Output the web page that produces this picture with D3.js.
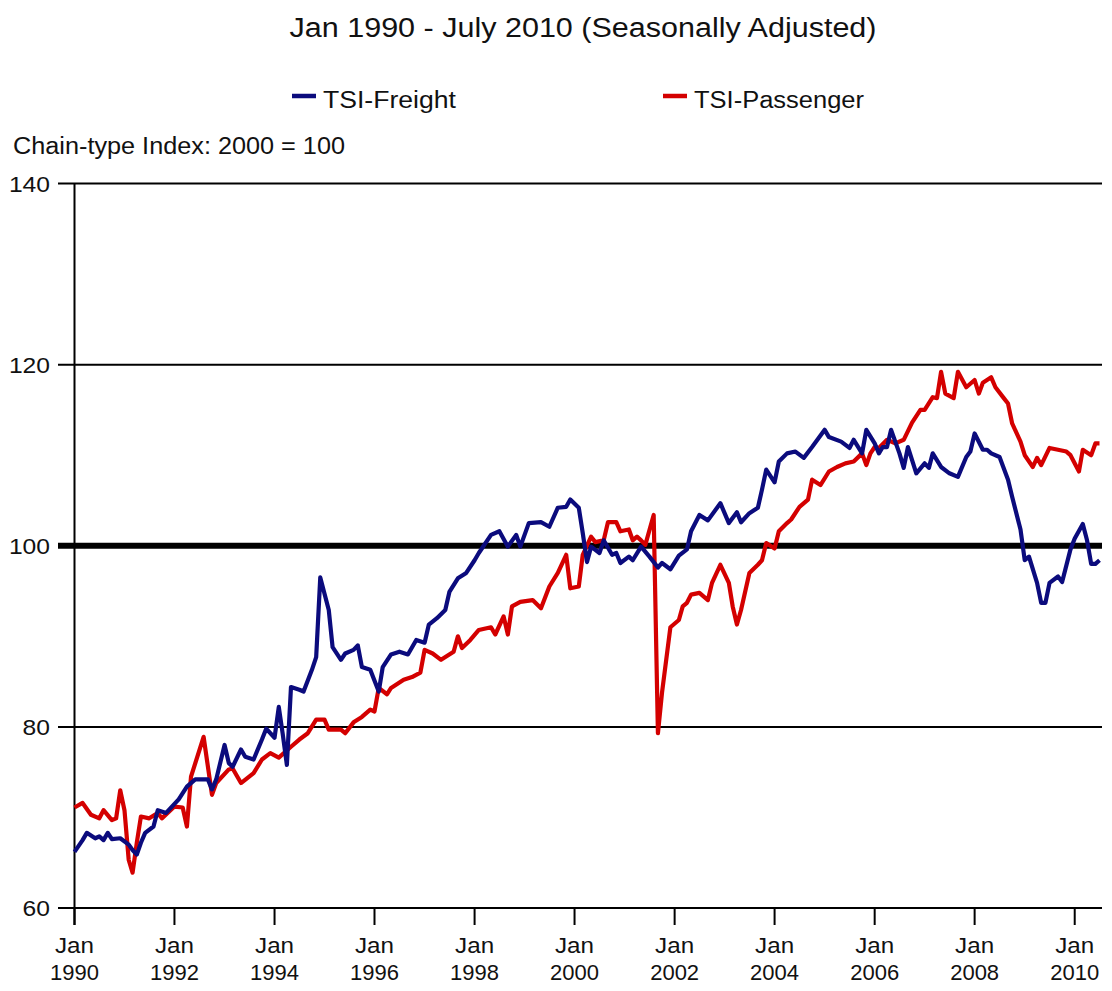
<!DOCTYPE html>
<html><head><meta charset="utf-8">
<script src="https://cdn.jsdelivr.net/npm/d3@7"></script>
<style>body{margin:0;background:#fff}svg{display:block}</style>
</head><body>
<svg id="c" width="1112" height="991"></svg>
<script>
// months counted from Jan 1990
const baseYear = 1990;
const freightMonths = [0,2,3,5,6,7,8,9,11,13,14,15,16,17,19,20,22,25,27,29,32,33,34,36,37,38,40,41,43,45,46,48,49,50,51,52,54,55,57,58,59,61,62,64,65,67,68,69,71,73,74,76,78,80,82,84,85,87,89,90,92,94,96,97,100,102,104,106,107,109,112,114,116,118,119,121,122,123,124,126,127,129,130,131,133,134,136,138,140,141,143,145,147,148,150,152,155,157,159,160,162,164,165,166,168,169,171,173,175,177,180,181,184,186,187,189,190,192,193,194,195,196,198,199,200,202,204,205,206,208,210,212,214,215,216,218,219,220,222,224,225,227,228,229,231,232,233,234,236,237,239,240,242,243,244,245,246];
const freightValues = [66.2,67.5,68.3,67.7,67.9,67.5,68.3,67.6,67.7,67.0,66.4,65.9,67.2,68.3,69.0,70.8,70.5,72.0,73.4,74.2,74.2,73.1,74.2,78.0,76.0,75.6,77.5,76.7,76.4,78.6,79.8,78.8,82.2,79.3,75.8,84.4,84.1,83.9,86.3,87.7,96.5,92.9,88.8,87.4,88.1,88.5,89.0,86.6,86.3,83.9,86.6,88.0,88.3,88.0,89.6,89.3,91.3,92.0,92.9,94.9,96.4,97.0,98.4,99.2,101.2,101.6,99.9,101.2,99.9,102.5,102.6,102.1,104.2,104.3,105.1,104.2,101.4,98.2,99.9,99.2,100.6,99.0,99.2,98.1,98.8,98.4,99.9,98.8,97.6,98.1,97.4,98.9,99.6,101.6,103.4,102.8,104.7,102.5,103.7,102.6,103.6,104.2,106.2,108.4,107.0,109.3,110.2,110.4,109.7,110.9,112.8,112.0,111.5,110.8,111.7,110.2,112.8,111.3,110.2,110.9,110.9,112.8,110.2,108.6,110.9,108.0,109.1,108.6,110.2,108.7,108.0,107.6,109.8,110.4,112.4,110.6,110.6,110.2,109.8,107.3,105.4,101.8,98.4,98.8,95.9,93.7,93.7,95.9,96.6,96.0,99.6,100.8,102.4,100.6,98.0,98.0,98.4];

const passengerMonths = [0,2,4,6,7,9,10,11,12,13,14,15,16,18,20,21,24,26,27,28,31,33,34,37,38,40,43,45,47,49,52,54,56,58,60,61,64,65,67,69,71,72,73,75,76,79,81,83,84,86,88,91,92,93,95,97,100,101,103,104,105,107,110,112,114,116,118,119,121,122,124,125,127,128,130,131,133,134,135,136,137,139,140,141,143,145,146,147,148,150,152,153,155,157,158,159,160,162,164,165,166,168,169,171,172,174,176,177,179,181,183,185,187,189,190,191,192,193,195,197,199,201,203,204,206,207,208,209,211,212,214,216,217,218,220,221,223,224,225,227,228,230,231,232,234,236,238,239,241,242,244,245,246];
const passengerValues = [71.1,71.6,70.3,69.9,70.8,69.7,69.9,73.0,70.8,65.3,63.9,67.2,70.1,69.9,70.5,69.9,71.2,71.1,69.0,74.5,78.9,72.5,73.8,75.3,75.4,73.8,74.9,76.4,77.1,76.6,77.8,78.6,79.3,80.8,80.8,79.7,79.7,79.3,80.5,81.1,81.9,81.7,84.3,83.6,84.3,85.2,85.5,86.0,88.5,88.1,87.4,88.3,90.0,88.7,89.6,90.7,91.0,90.2,92.2,90.2,93.3,93.8,94.0,93.1,95.5,97.0,99.0,95.3,95.5,99.0,101.0,100.4,100.6,102.6,102.6,101.6,101.8,100.6,101.0,100.6,100.1,103.4,79.3,83.8,91.0,91.8,93.3,93.7,94.6,94.8,94.0,95.9,97.9,95.9,93.3,91.3,92.9,97.0,97.9,98.4,100.3,99.7,101.6,102.5,102.9,104.3,105.1,107.3,106.7,108.2,108.7,109.1,109.3,110.2,108.9,110.2,110.9,110.8,111.7,111.3,111.7,113.6,115.0,115.0,116.4,116.3,119.2,116.8,116.3,119.2,117.5,118.3,116.8,118.0,118.6,117.5,116.3,115.7,113.5,111.5,110.0,108.7,109.7,108.9,110.8,110.6,110.4,110.0,108.2,110.6,110.0,111.3,111.3];

const yTicks = [60,80,100,120,140];
const xTickYears = [1990,1992,1994,1996,1998,2000,2002,2004,2006,2008,2010];
const seriesNames = ["TSI-Freight","TSI-Passenger"];
const seriesColors = ["#0b0b7d","#d40000"];

const svg = d3.select("#c");
const font = "'Liberation Sans', Arial, sans-serif";
const toDate = m => new Date(baseYear + Math.floor(m/12), m%12, 1);

// stretch text horizontally by a factor (reference glyphs are wide)
function stretch(sel, f){
  sel.each(function(){
    const w = this.getComputedTextLength();
    d3.select(this).attr("textLength", w*f).attr("lengthAdjust","spacingAndGlyphs");
  });
}

const x = d3.scaleTime().domain([new Date(1990,0,1), new Date(2010,6,1)]).range([74.5, 1099.5]);
const y = d3.scaleLinear().domain([60,140]).range([908, 183.5]);

// title
svg.append("text").attr("x",583).attr("y",37).attr("text-anchor","middle")
  .attr("font-family",font).attr("font-size",27).attr("fill","#111")
  .text("Jan 1990 - July 2010 (Seasonally Adjusted)")
  .attr("textLength",587).attr("lengthAdjust","spacingAndGlyphs");

// legend
const legX = [292, 663];
const legW = [133, 170];
seriesNames.forEach((n,i)=>{
  svg.append("line").attr("x1",legX[i]).attr("x2",legX[i]+24).attr("y1",96).attr("y2",96)
    .attr("stroke",seriesColors[i]).attr("stroke-width",4.5);
  svg.append("text").attr("x",legX[i]+31).attr("y",108).attr("font-family",font)
    .attr("font-size",23).attr("fill","#111").text(n)
    .attr("textLength",legW[i]).attr("lengthAdjust","spacingAndGlyphs");
});

svg.append("text").attr("x",13).attr("y",154).attr("font-family",font)
  .attr("font-size",23).attr("fill","#111").text("Chain-type Index: 2000 = 100")
  .attr("textLength",332).attr("lengthAdjust","spacingAndGlyphs");

// gridlines
svg.append("g").selectAll("line").data(yTicks).join("line")
  .attr("x1",58).attr("x2",1102).attr("y1",d=>y(d)).attr("y2",d=>y(d))
  .attr("stroke","#000").attr("stroke-width",d=>d===100?6:2);

// y labels
svg.append("g").selectAll("text").data(yTicks).join("text")
  .attr("x",50).attr("y",d=>y(d)+8).attr("text-anchor","end")
  .attr("font-family",font).attr("font-size",22).attr("fill","#111").text(d=>d)
  .call(stretch,1.12);

// y axis line
svg.append("line").attr("x1",x(new Date(1990,0,1))).attr("x2",x(new Date(1990,0,1)))
  .attr("y1",y(140)).attr("y2",925).attr("stroke","#000").attr("stroke-width",2);

// x axis ticks and labels
const xt = svg.append("g").selectAll("g").data(xTickYears).join("g")
  .attr("transform",d=>`translate(${x(new Date(d,0,1))},0)`);
xt.append("line").attr("y1",908).attr("y2",925).attr("stroke","#000").attr("stroke-width",2);
xt.append("text").attr("y",953).attr("text-anchor","middle").attr("font-family",font)
  .attr("font-size",22).attr("fill","#111").text("Jan").call(stretch,1.1);
xt.append("text").attr("y",980).attr("text-anchor","middle").attr("font-family",font)
  .attr("font-size",22).attr("fill","#111").text(d=>d).call(stretch,1.0);

// series
const line = d3.line().x(d=>x(d[0])).y(d=>y(d[1]));
const series = [
  freightMonths.map((m,i)=>[toDate(m), freightValues[i]]),
  passengerMonths.map((m,i)=>[toDate(m), passengerValues[i]])
];
[1,0].forEach(i=>{
  svg.append("path").datum(series[i]).attr("d",line).attr("fill","none")
    .attr("stroke",seriesColors[i]).attr("stroke-width",4.2).attr("stroke-linejoin","round");
});
</script>
</body></html>
